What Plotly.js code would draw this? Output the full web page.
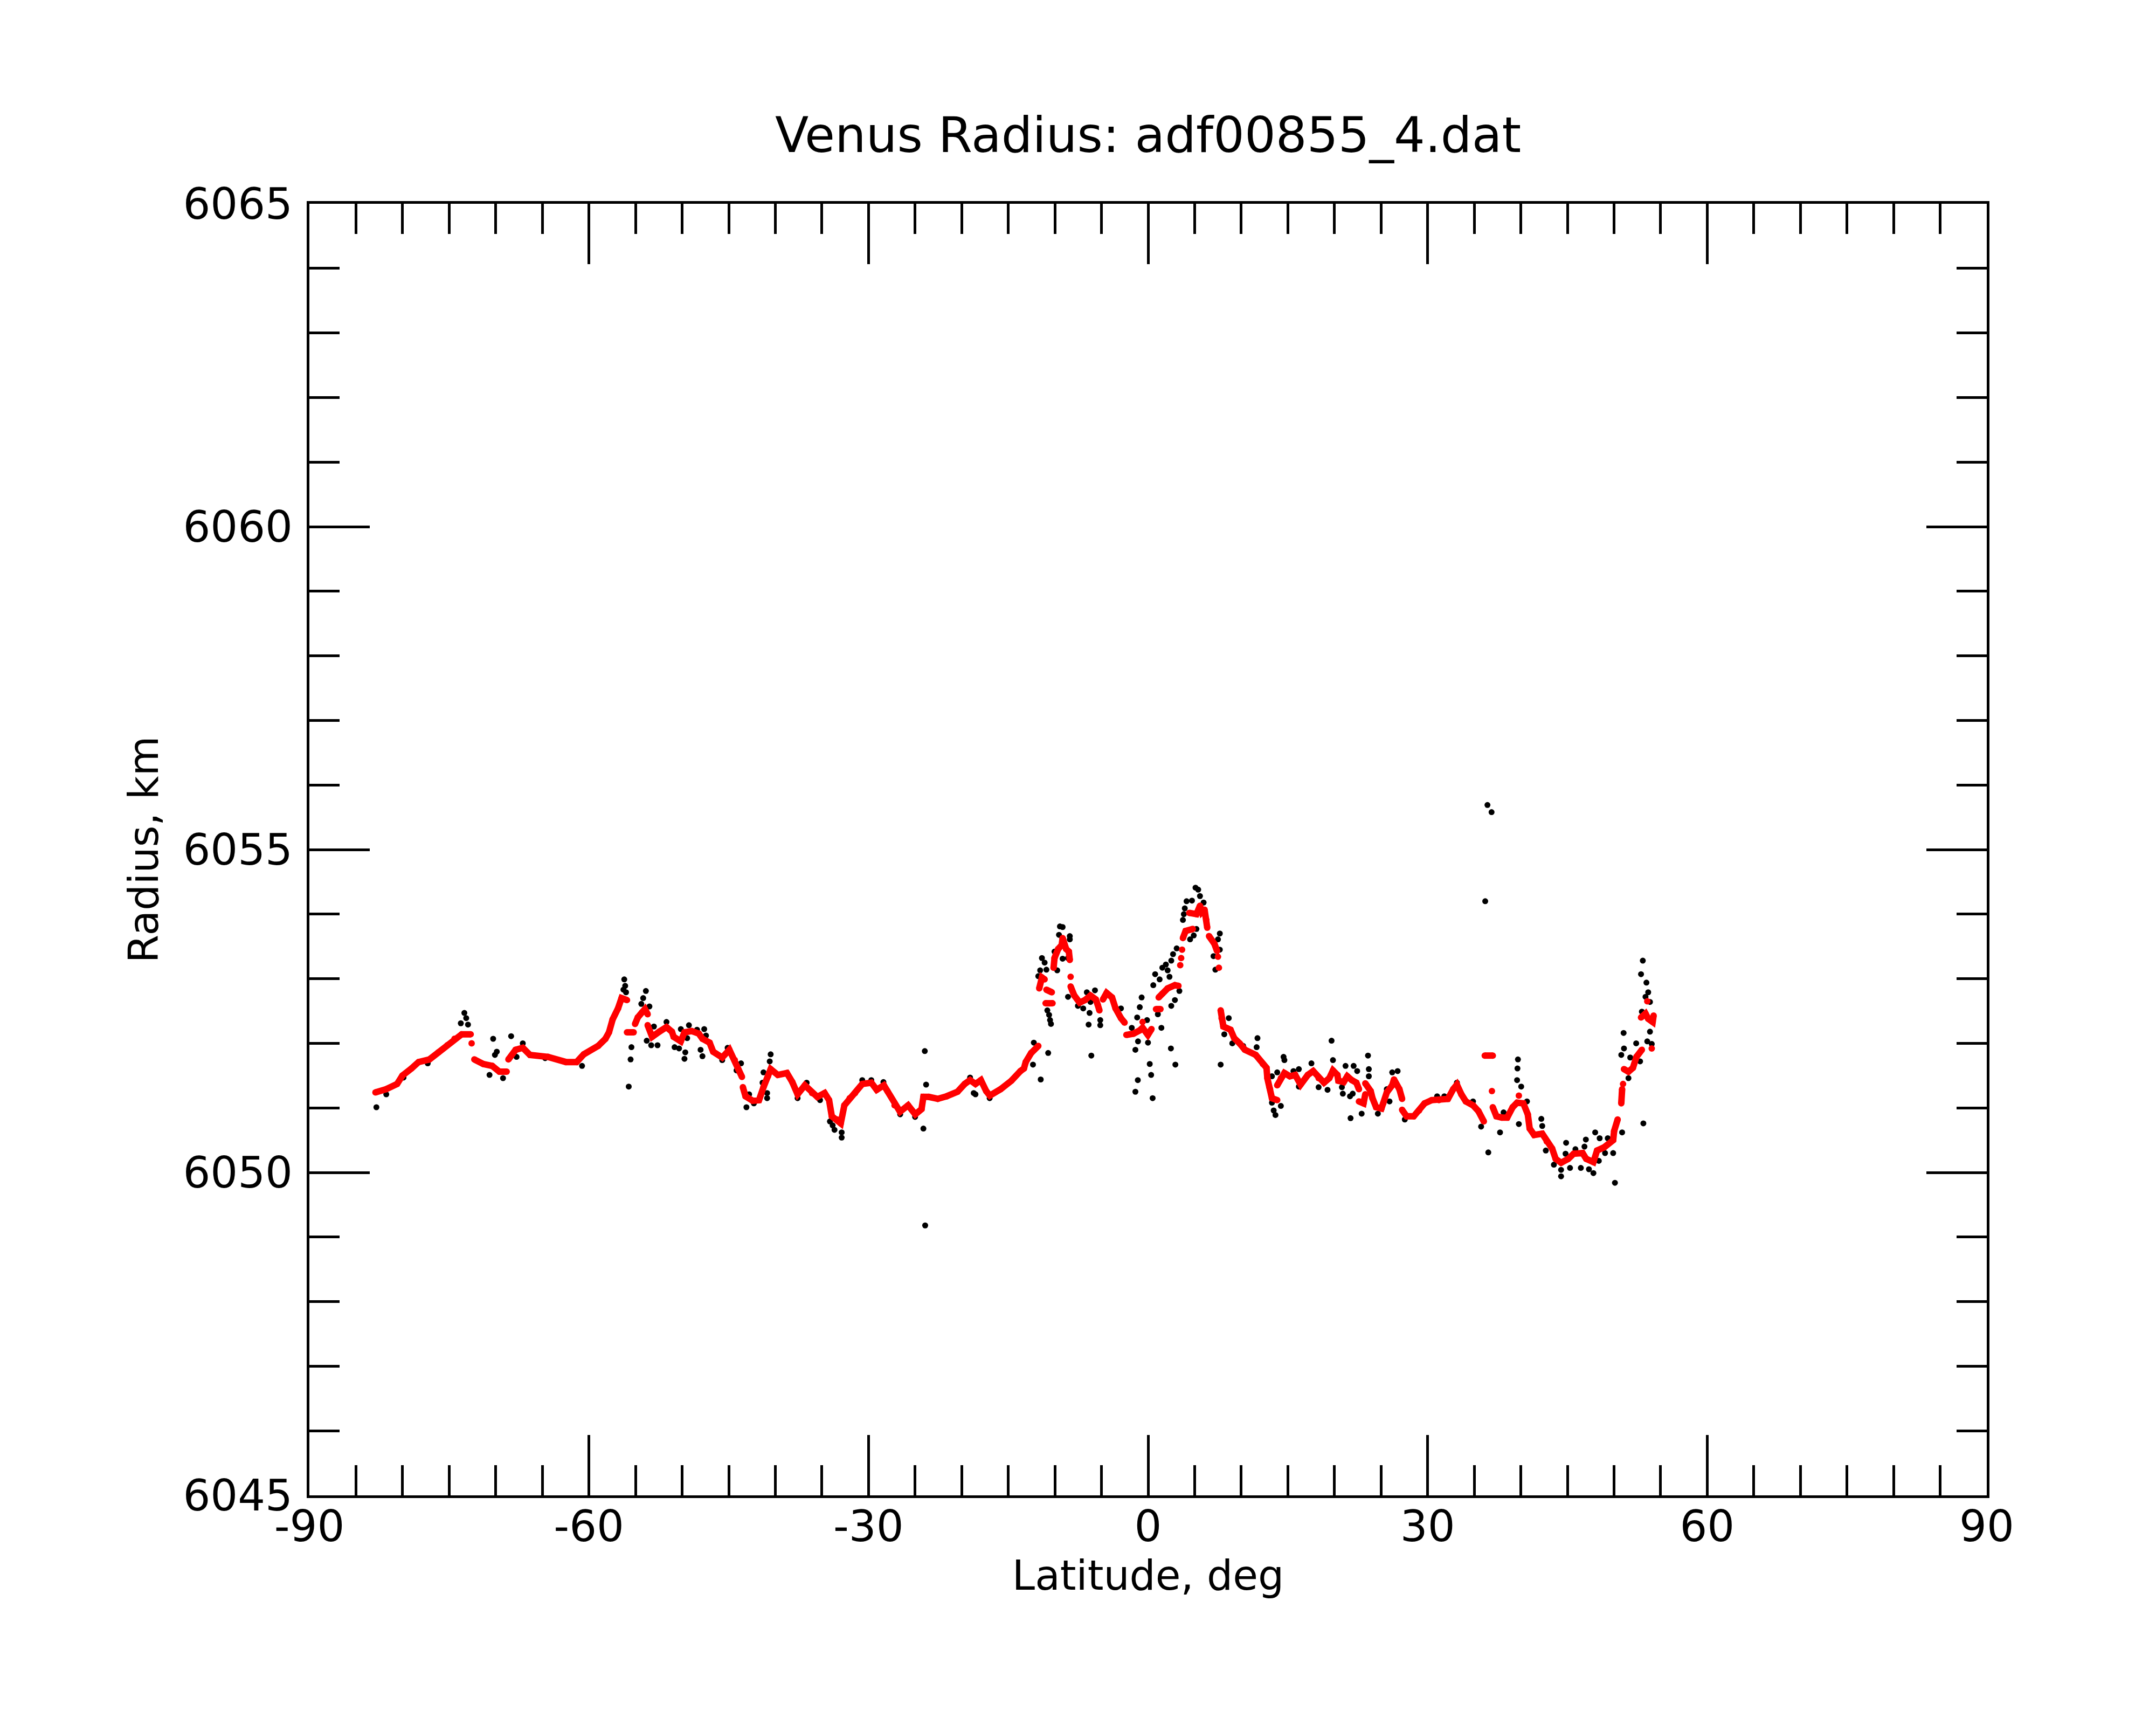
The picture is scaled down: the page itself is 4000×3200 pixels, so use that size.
<!DOCTYPE html>
<html>
<head>
<meta charset="utf-8">
<script src="https://cdn.plot.ly/plotly-3.0.1.min.js"></script>
<style>html,body{margin:0;padding:0;background:#fff;}#chart{width:4000px;height:3200px;}</style>
</head>
<body>
<div id="chart"></div>
<script>
// ---- Data ----
const chartTitle = 'Venus Radius: adf00855_4.dat';
const xTitle = 'Latitude, deg';
const yTitle = 'Radius, km';

const xTickVals = [-90, -60, -30, 0, 30, 60, 90];
const xTickText = ['-90', '-60', '-30', '0', '30', '60', '90'];
const yTickVals = [6045, 6050, 6055, 6060, 6065];
const yTickText = ['6045', '6050', '6055', '6060', '6065'];

// Smoothed radius profile (red); null separates gaps in the track
const redLat = [
  -82.91,-81.75,-80.59,-80.02,-79.05,-78.28,-77.12,-76.16,-75.20,-74.43,-73.65,-72.69,null,
  -72.59,null,
  -72.30,-71.34,-70.38,-69.61,-68.83,null,
  -68.64,-67.87,-67.10,-66.33,-64.40,-62.47,-61.32,-60.55,-59.01,-58.23,-57.85,-57.46,-56.88,-56.50,-55.92,null,
  -55.92,-55.20,null,
  -55.05,-54.76,-54.30,-53.99,-53.70,null,
  -53.70,-53.22,-52.45,-51.68,-51.10,-50.91,-50.14,-49.75,-48.98,-48.21,-47.82,-47.05,-46.67,-45.70,-44.93,-44.35,-43.97,-43.58,null,
  -43.48,-43.20,-42.42,-41.75,-41.27,-40.79,-40.50,-39.73,-38.76,-38.18,-37.61,-36.83,-36.06,-35.49,-34.71,-34.23,-33.94,-33.37,-32.98,-32.59,-32.02,-31.44,-30.67,-29.70,-29.12,-28.35,-27.97,-27.20,-26.62,-25.75,-24.98,-24.31,-24.11,-23.53,-22.57,-21.61,-20.45,-19.68,-19.10,-18.52,-17.94,-17.37,-16.98,-15.82,-14.67,-13.70,-13.32,-13.13,-12.55,-11.78,null,
  -11.68,-11.39,-11.10,null,
  -10.91,-10.33,null,
  -11.00,-10.25,null,
  -10.14,-10.04,-9.65,-9.27,-9.17,-8.79,-8.50,-8.40,null,
  -8.31,null,
  -8.31,-7.92,-7.34,-6.76,-6.18,-5.61,-5.41,-5.22,null,
  -4.84,-4.45,-3.87,-3.49,-2.91,-2.52,null,
  -2.33,-1.56,-0.90,-0.59,-0.02,0.37,null,
  -0.59,null,
  0.85,1.33,null,
  1.14,1.53,2.10,2.88,3.26,null,
  3.45,null,3.55,null,3.65,null,
  3.74,4.03,4.80,null,
  4.42,5.19,5.57,5.77,6.06,6.25,6.35,null,
  6.54,7.12,7.40,null,
  7.50,null,7.60,null,
  7.79,7.89,8.08,8.85,9.24,9.82,10.39,11.55,12.32,12.71,12.80,13.09,13.29,13.86,null,
  13.86,14.25,14.63,15.21,15.79,16.37,17.14,17.72,18.30,18.88,19.45,19.84,20.32,20.42,20.99,21.38,21.86,22.35,22.63,null,
  22.63,23.12,23.31,null,
  23.31,23.89,24.08,24.47,25.04,25.24,25.62,26.20,26.39,26.97,27.26,null,
  27.26,27.74,28.51,29.09,29.67,30.44,31.21,32.18,32.75,33.14,33.62,34.10,34.87,35.45,36.03,null,
  36.13,36.99,null,
  36.90,null,
  36.99,37.38,37.96,38.54,39.12,39.60,40.27,40.75,40.95,41.43,42.30,42.78,43.36,43.74,44.32,45.09,45.67,46.63,47.02,47.79,48.18,48.95,49.91,50.01,50.39,null,
  39.79,null,
  50.78,50.87,null,
  50.97,null,
  51.07,51.55,52.03,52.41,52.99,null,
  54.05,null,
  52.90,53.38,53.67,54.15,54.25,null,
  53.57
];
const redRad = [
  6051.24,6051.29,6051.37,6051.50,6051.61,6051.71,6051.75,6051.86,6051.97,6052.07,6052.14,6052.14,null,
  6052.00,null,
  6051.75,6051.68,6051.65,6051.56,6051.56,null,
  6051.75,6051.90,6051.93,6051.82,6051.79,6051.71,6051.71,6051.83,6051.96,6052.07,6052.17,6052.37,6052.54,6052.70,6052.67,null,
  6052.17,6052.17,null,
  6052.30,6052.40,6052.48,6052.53,6052.45,null,
  6052.28,6052.10,6052.18,6052.25,6052.18,6052.10,6052.03,6052.17,6052.19,6052.15,6052.07,6052.01,6051.87,6051.78,6051.90,6051.74,6051.60,6051.48,null,
  6051.32,6051.18,6051.11,6051.12,6051.32,6051.49,6051.60,6051.51,6051.54,6051.40,6051.21,6051.35,6051.23,6051.17,6051.23,6051.12,6050.87,6050.82,6050.76,6051.04,6051.15,6051.23,6051.37,6051.39,6051.28,6051.35,6051.26,6051.04,6050.94,6051.04,6050.90,6050.98,6051.17,6051.17,6051.14,6051.18,6051.25,6051.37,6051.43,6051.37,6051.43,6051.26,6051.19,6051.29,6051.42,6051.57,6051.61,6051.71,6051.85,6051.96,null,
  6052.85,6053.02,6052.99,null,
  6052.83,6052.79,null,
  6052.62,6052.62,null,
  6053.17,6053.32,6053.46,6053.52,6053.63,6053.46,6053.42,6053.29,null,
  6053.03,null,
  6052.88,6052.74,6052.63,6052.67,6052.74,6052.68,6052.60,6052.51,null,
  6052.68,6052.78,6052.71,6052.54,6052.39,6052.32,null,
  6052.13,6052.15,6052.20,6052.24,6052.13,6052.22,null,
  6052.33,null,
  6052.53,6052.53,null,
  6052.71,6052.77,6052.85,6052.90,6052.89,null,
  6053.21,null,6053.32,null,6053.45,null,
  6053.63,6053.74,6053.77,null,
  6054.02,6054.00,6054.13,6054.03,6054.07,6053.91,6053.79,null,
  6053.66,6053.54,6053.43,null,
  6053.34,null,6053.17,null,
  6052.51,6052.39,6052.26,6052.21,6052.08,6052.00,6051.90,6051.82,6051.68,6051.62,6051.46,6051.29,6051.15,6051.12,null,
  6051.35,6051.46,6051.54,6051.49,6051.51,6051.36,6051.51,6051.57,6051.46,6051.39,6051.46,6051.58,6051.51,6051.42,6051.40,6051.49,6051.43,6051.39,6051.29,null,
  6051.10,6051.07,6051.21,null,
  6051.38,6051.26,6051.15,6051.01,6050.99,6051.07,6051.24,6051.35,6051.44,6051.29,6051.14,null,
  6050.97,6050.87,6050.87,6050.96,6051.07,6051.12,6051.12,6051.14,6051.29,6051.36,6051.21,6051.10,6051.04,6050.95,6050.79,null,
  6051.81,6051.81,null,
  6051.26,null,
  6051.01,6050.87,6050.85,6050.85,6051.01,6051.08,6051.07,6050.90,6050.68,6050.58,6050.60,6050.48,6050.37,6050.21,6050.15,6050.21,6050.29,6050.30,6050.21,6050.16,6050.34,6050.39,6050.50,6050.64,6050.82,null,
  6051.19,null,
  6051.07,6051.29,null,
  6051.37,null,
  6051.60,6051.56,6051.62,6051.79,6051.90,null,
  6051.92,null,
  6052.40,6052.46,6052.38,6052.33,6052.43,null,
  6052.65
];

// Raw radius measurements (black) that stand out from the smoothed track
const rawLat = [
  -82.81,-81.75,-79.90,-77.30,-73.37,-73.17,-73.75,-72.98,-70.28,-69.89,-70.09,-70.67,-69.22,-68.35,-67.10,-67.77,-64.70,-60.74,
  -56.21,-56.11,-56.30,-56.02,-53.89,-54.18,-54.38,-53.51,-55.44,-55.53,-55.73,-53.80,-53.32,-52.64,-53.03,-51.68,-50.81,-50.33,
  -49.66,-49.75,-49.46,-49.27,-50.14,-48.40,-47.63,-47.44,-48.02,-47.82,-45.70,-45.12,-43.68,-44.16,-43.10,-42.81,-42.30,
  -40.50,-40.60,-41.27,-40.88,-40.88,-41.37,-37.61,-36.64,-35.20,-33.85,-33.65,-32.88,-32.88,-34.14,-30.67,-29.70,
  -28.40,-26.60,-25.00,-23.96,-23.82,-24.11,-23.92,-19.10,-18.71,-18.52,-17.00,
  -12.26,-12.35,-10.72,-11.52,-10.81,-10.62,-10.52,-10.42,-6.09,-6.38,-6.28,-5.13,-5.13,-1.36,-1.36,-1.10,
  -11.39,-11.10,-11.58,-11.78,-10.91,-9.46,-9.17,-9.56,-8.40,-8.40,-10.04,-9.17,-8.59,-9.75,-8.59,-7.53,-6.96,
  -6.57,-5.70,-6.18,-2.91,-0.69,-0.89,-1.17,-1.75,-1.08,-0.01,-0.11,0.18,0.33,0.49,1.43,1.05,2.45,2.93,2.49,2.88,3.36,
  0.56,0.76,1.24,1.53,2.10,1.91,2.30,2.49,2.68,3.07,3.74,3.84,3.94,4.13,4.71,5.09,5.38,5.57,5.96,4.51,4.90,5.19,
  7.70,7.50,7.70,7.02,7.22,7.79,8.66,8.18,9.04,10.20,
  11.74,11.65,14.54,14.63,13.86,13.29,13.00,13.29,13.48,13.67,14.25,15.60,16.18,17.53,16.18,18.30,19.26,19.69,19.84,
  21.19,22.06,22.44,20.90,20.80,21.67,21.96,21.73,22.92,23.60,23.69,23.69,24.66,25.62,25.91,26.20,26.78,27.55,
  31.02,31.79,33.14,34.87,35.74,
  36.42,36.86,36.18,53.09,52.90,53.48,53.67,53.38,53.86,52.99,53.86,53.57,54.05,51.03,52.38,51.07,50.78,51.74,52.80,
  51.55,53.15,50.87,50.10,39.69,39.64,39.60,40.04,40.66,39.79,36.51,37.77,38.15,42.20,42.30,42.68,43.55,44.32,44.32,
  44.86,44.80,45.28,45.86,46.44,46.98,46.83,47.79,47.31,47.98,48.46,49.33,49.91,49.04,48.37
];
const rawRad = [
  6051.01,6051.21,6051.47,6051.69,6052.47,6052.39,6052.31,6052.29,6052.07,6051.87,6051.82,6051.51,6051.46,6052.11,6052.00,6051.79,6051.77,6051.65,
  6052.99,6052.89,6052.83,6052.79,6052.81,6052.70,6052.61,6052.57,6051.94,6051.75,6051.33,6052.04,6051.97,6051.97,6052.26,6052.33,6051.94,6051.92,
  6051.86,6051.76,6052.08,6052.28,6052.22,6052.21,6052.22,6052.12,6051.90,6051.80,6051.74,6051.93,6051.69,6051.58,6051.01,6051.21,6051.07,
  6051.83,6051.72,6051.55,6051.23,6051.15,6051.39,6051.15,6051.39,6051.12,6050.73,6050.66,6050.62,6050.54,6050.79,6051.43,6051.43,
  6051.40,6050.90,6050.86,6051.88,6051.36,6050.68,6049.18,6051.47,6051.23,6051.21,6051.15,
  6052.01,6051.67,6051.85,6051.44,6052.51,6052.44,6052.36,6052.30,6051.81,6052.29,6052.47,6052.36,6052.28,6051.90,6051.25,6051.43,
  6053.32,6053.25,6053.13,6053.04,6053.14,6053.81,6053.80,6053.68,6053.66,6053.61,6053.42,6053.31,6053.32,6053.13,6052.72,6052.58,6052.54,
  6052.79,6052.82,6052.64,6052.54,6052.71,6052.56,6052.40,6052.24,6052.03,6052.01,6052.36,6051.68,6051.51,6051.15,6052.24,6052.45,6051.92,6051.67,6052.58,6052.67,6052.81,
  6052.90,6053.07,6052.99,6053.17,6053.13,6053.22,6053.03,6053.28,6053.38,6053.47,6053.91,6054.00,6054.09,6054.20,6054.21,6054.41,6054.38,6054.28,6054.18,6053.61,6053.67,6053.77,
  6053.70,6053.61,6053.45,6053.35,6053.14,6051.67,6052.39,6052.14,6052.00,6051.96,
  6052.08,6051.94,6051.79,6051.74,6051.55,6051.49,6051.32,6051.08,6050.96,6050.89,6051.03,6051.57,6051.60,6051.69,6051.33,6051.32,6051.28,6052.04,6051.74,
  6051.65,6051.65,6051.57,6051.22,6051.32,6051.18,6051.22,6050.84,6050.91,6051.81,6051.60,6051.49,6050.91,6051.29,6051.10,6051.55,6051.57,6050.82,
  6051.18,6051.18,6051.39,6051.10,6050.71,
  6055.69,6055.58,6054.20,6053.28,6053.07,6052.94,6052.79,6052.72,6052.64,6052.49,6052.18,6052.03,6051.99,6052.16,6052.00,6051.92,6051.82,6051.78,6051.72,
  6051.46,6050.76,6050.62,6049.84,6051.75,6051.61,6051.43,6051.33,6051.10,6050.75,6050.31,6050.62,6050.93,6050.83,6050.72,6050.34,6050.12,6050.04,6049.94,
  6050.46,6050.29,6050.07,6050.36,6050.07,6050.51,6050.40,6049.99,6050.05,6050.62,6050.53,6050.53,6050.30,6050.30,6050.18
];

// ---- Styling ----
const FONT = 'DejaVu Sans, Liberation Sans, sans-serif';
const axisCommon = {
  showline: true, linecolor: '#000', linewidth: 5, mirror: 'ticks',
  ticks: 'inside', ticklen: 112, tickwidth: 5, tickcolor: '#000',
  showgrid: false, zeroline: false,
  tickfont: {family: FONT, size: 80, color: '#000'}
};

const traces = [
  {
    type: 'scatter', mode: 'markers', x: rawLat, y: rawRad,
    marker: {color: '#000', size: 11}, hoverinfo: 'skip', showlegend: false
  },
  {
    type: 'scatter', mode: 'lines+markers', x: redLat, y: redRad, connectgaps: false,
    line: {color: '#ff0000', width: 12}, marker: {color: '#ff0000', size: 12},
    hoverinfo: 'skip', showlegend: false
  }
];

const layout = {
  width: 4000, height: 3200,
  paper_bgcolor: '#fff', plot_bgcolor: '#fff',
  margin: {l: 574, r: 314, t: 378, b: 426, pad: 0},
  showlegend: false,
  title: {
    text: chartTitle, font: {family: FONT, size: 91, color: '#000'},
    x: 0.5, xref: 'paper', xanchor: 'center',
    y: 1 - 250 / 3200, yref: 'container', yanchor: 'middle'
  },
  xaxis: Object.assign({}, axisCommon, {
    range: [-90, 90], tickmode: 'array', tickvals: xTickVals, ticktext: xTickText,
    minor: {tickmode: 'linear', tick0: -90, dtick: 5, ticks: 'inside', ticklen: 56, tickwidth: 5, tickcolor: '#000', showgrid: false},
    ticklabelstandoff: -16,
    title: {text: xTitle, font: {family: FONT, size: 76, color: '#000'}, standoff: 2}
  }),
  yaxis: Object.assign({}, axisCommon, {
    range: [6045, 6065], tickmode: 'array', tickvals: yTickVals, ticktext: yTickText,
    minor: {tickmode: 'linear', tick0: 6045, dtick: 1, ticks: 'inside', ticklen: 56, tickwidth: 5, tickcolor: '#000', showgrid: false},
    ticklabelstandoff: 10,
    title: {text: yTitle, font: {family: FONT, size: 76, color: '#000'}, standoff: 22}
  })
};

Plotly.newPlot('chart', traces, layout, {staticPlot: true, displayModeBar: false});
</script>
</body>
</html>
